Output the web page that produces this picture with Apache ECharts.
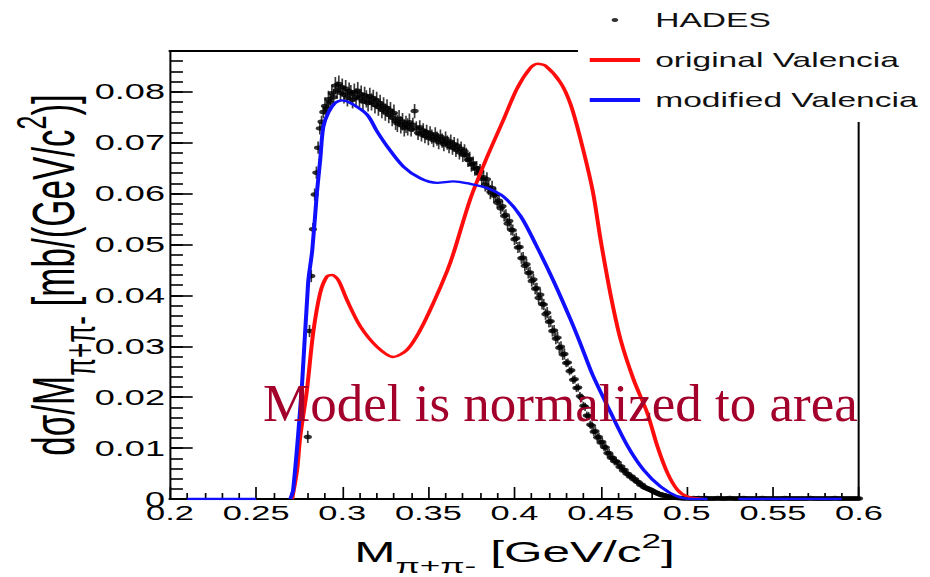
<!DOCTYPE html>
<html>
<head>
<meta charset="utf-8">
<script src="https://cdn.jsdelivr.net/npm/echarts@6/dist/echarts.min.js"></script>
<style>
  html, body { margin: 0; padding: 0; background: #fff; overflow: hidden; }
  #chart { width: 554px; height: 577px; transform-origin: 0 0; }
</style>
</head>
<body>
<div id="chart"></div>
<script>
// HADES pi+pi- invariant mass spectrum vs. Valencia model curves

// Horizontal stretch of the whole figure (fonts and markers are wide)
const STRETCH = 930 / 554;

// HADES data: bins of 1 MeV starting at 0.280 GeV/c^2
const HADES_START = 0.280;
const HADES_BIN = 0.001;
const hadesValues = [
  0.0122, 0.0330, 0.0438, 0.0530, 0.0598, 0.0641, 0.0690, 0.0728, 0.0741, 0.0760,
  0.0772, 0.0766, 0.0785, 0.0779, 0.0797, 0.0789, 0.0812, 0.0803, 0.0815, 0.0798,
  0.0809, 0.0794, 0.0806, 0.0788, 0.0801, 0.0796, 0.0784, 0.0799, 0.0790, 0.0802,
  0.0787, 0.0795, 0.0781, 0.0793, 0.0786, 0.0778, 0.0791, 0.0780, 0.0787, 0.0774,
  0.0783, 0.0770, 0.0777, 0.0765, 0.0772, 0.0760, 0.0768, 0.0755, 0.0763, 0.0749,
  0.0758, 0.0742, 0.0738, 0.0747, 0.0735, 0.0741, 0.0729, 0.0736, 0.0731, 0.0740,
  0.0726, 0.0735, 0.0762, 0.0728, 0.0719, 0.0730, 0.0716, 0.0724, 0.0713, 0.0721,
  0.0709, 0.0718, 0.0712, 0.0705, 0.0716, 0.0708, 0.0701, 0.0712, 0.0704, 0.0697,
  0.0708, 0.0700, 0.0693, 0.0702, 0.0690, 0.0697, 0.0686, 0.0694, 0.0681, 0.0688,
  0.0676, 0.0683, 0.0676, 0.0666, 0.0668, 0.0657, 0.0659, 0.0649, 0.0650, 0.0640,
  0.0644, 0.0629, 0.0632, 0.0618, 0.0628, 0.0611, 0.0603, 0.0611, 0.0596, 0.0598,
  0.0582, 0.0586, 0.0571, 0.0575, 0.0556, 0.0558, 0.0541, 0.0546, 0.0529, 0.0528,
  0.0510, 0.0512, 0.0494, 0.0495, 0.0473, 0.0474, 0.0458, 0.0461, 0.0444, 0.0445,
  0.0428, 0.0431, 0.0413, 0.0414, 0.0395, 0.0401, 0.0383, 0.0382, 0.0363, 0.0366,
  0.0348, 0.0349, 0.0330, 0.0331, 0.0315, 0.0317, 0.0297, 0.0299, 0.0284, 0.0285,
  0.0267, 0.0268, 0.0251, 0.0253, 0.0234, 0.0235, 0.0218, 0.0219, 0.0202, 0.0199,
  0.0183, 0.0181, 0.0164, 0.0163, 0.0146, 0.0144, 0.0132, 0.0133, 0.0121, 0.0122,
  0.0111, 0.0112, 0.0102, 0.0101, 0.0090, 0.0090, 0.0081, 0.0081, 0.0074, 0.0074,
  0.0071, 0.0063, 0.0064, 0.0056, 0.0057, 0.0050, 0.0049, 0.0044, 0.0044, 0.0039,
  0.0039, 0.0034, 0.0033, 0.0028, 0.0028, 0.0024, 0.0022, 0.0021, 0.0019, 0.0018,
  0.0016, 0.0014, 0.0013, 0.0011, 0.0010, 0.0008, 0.0008, 0.0007, 0.0006, 0.0005,
  0.0005, 0.0004, 0.0004, 0.0003, 0.0003, 0.0002, 0.0002, 0.0002, 0.0001, 0.0002,
  0.0001, 0.0002, 0.0001, 0.0001, 0.0002, 0.0001, 0.0001, 0.0002, 0.0001, 0.0001,
  0.0001, 0.0002, 0.0001, 0.0001, 0.0001, 0.0001, 0.0001, 0.0001, 0.0002, 0.0001,
  0.0001, 0.0001, 0.0001, 0.0001, 0.0001, 0.0002, 0.0001, 0.0001, 0.0001, 0.0001,
  0.0001, 0.0001, 0.0001, 0.0002, 0.0001, 0.0001, 0.0001, 0.0001, 0.0001, 0.0001,
  0.0001, 0.0001, 0.0001, 0.0001, 0.0002, 0.0001, 0.0001, 0.0001, 0.0001, 0.0001,
  0.0001, 0.0001, 0.0001, 0.0001, 0.0001, 0.0001, 0.0001, 0.0002, 0.0001, 0.0001,
  0.0001, 0.0001, 0.0001, 0.0001, 0.0001, 0.0001, 0.0001, 0.0001, 0.0001, 0.0001,
  0.0001, 0.0001, 0.0002, 0.0001, 0.0001, 0.0001, 0.0001, 0.0001, 0.0001, 0.0001,
  0.0001, 0.0001, 0.0001, 0.0001, 0.0001, 0.0001, 0.0002, 0.0001, 0.0001, 0.0001,
  0.0001, 0.0001, 0.0001, 0.0001, 0.0001, 0.0001, 0.0001, 0.0001, 0.0001, 0.0001,
  0.0001
];

// Statistical error (half-length of the bar), valid from the given mass onward
const hadesErrBands = [
  [0.280, 0.0012], [0.290, 0.0017], [0.340, 0.0014], [0.390, 0.0011],
  [0.430, 0.0008], [0.460, 0.0005], [0.490, 0.0002]
];

// Original Valencia model [mass, dsigma/dM]
const originalValencia = [
  [0.2709, 0], [0.2738, 0.0057], [0.2756, 0.0122], [0.2795, 0.0214], [0.2831, 0.0326],
  [0.2872, 0.0405], [0.2911, 0.0437], [0.2940, 0.0440], [0.2977, 0.0430], [0.3027, 0.0391],
  [0.3105, 0.0339], [0.3202, 0.0299], [0.3297, 0.0279], [0.3376, 0.0293], [0.3453, 0.0332],
  [0.3529, 0.0385], [0.3609, 0.0448], [0.3648, 0.0485], [0.3744, 0.0590], [0.3841, 0.0672],
  [0.3936, 0.0745], [0.4016, 0.0807], [0.4093, 0.0847], [0.4134, 0.0855], [0.4180, 0.0851],
  [0.4267, 0.0818], [0.4326, 0.0775], [0.4384, 0.0706], [0.4453, 0.0607], [0.4500, 0.0509],
  [0.4558, 0.0401], [0.4616, 0.0313], [0.4692, 0.0234], [0.4771, 0.0169], [0.4830, 0.0103],
  [0.4888, 0.0051], [0.4946, 0.0018], [0.5004, 0.0005], [0.5099, 0]
];

// Modified Valencia model [mass, dsigma/dM]; '-' breaks the curve
const modifiedValencia = [
  [0.210, 0], [0.250, 0], [0.260, '-'],
  [0.2698, 0], [0.2715, 0.0018], [0.2767, 0.0228], [0.2802, 0.0425], [0.2826, 0.0489],
  [0.2853, 0.0602], [0.2872, 0.0666], [0.2890, 0.0731], [0.2919, 0.0759], [0.2959, 0.0778],
  [0.2998, 0.0783], [0.3047, 0.0778], [0.3144, 0.0755], [0.3202, 0.0722], [0.3260, 0.0693],
  [0.3355, 0.0653], [0.3453, 0.0630], [0.3551, 0.0621], [0.3645, 0.0624], [0.3744, 0.0619],
  [0.3841, 0.0611], [0.3936, 0.0594], [0.4035, 0.0556], [0.4128, 0.0497], [0.4227, 0.0428],
  [0.4326, 0.0352], [0.4384, 0.0304], [0.4452, 0.0245], [0.4558, 0.0170], [0.4655, 0.0105],
  [0.4750, 0.0057], [0.4849, 0.0024], [0.4946, 0.0005], [0.5041, 0], [0.512, 0], [0.520, '-'],
  [0.530, 0], [0.590, 0]
];

const xTicks = { min: 0.2, max: 0.6, step: 0.05 };
const yTicks = { min: 0, max: 0.088, step: 0.01, minorStep: 0.002 };

const FONT = '"Liberation Sans", Arial, Helvetica, sans-serif';

function errFor(x) {
  let e = hadesErrBands[0][1];
  for (const [x0, v] of hadesErrBands) if (x >= x0 - 1e-9) e = v;
  return e;
}
const hadesData = hadesValues.map((v, i) => {
  const x = +(HADES_START + i * HADES_BIN).toFixed(3);
  return [x, v, errFor(x)];
});

const el = document.getElementById('chart');
el.style.transform = 'scaleX(' + STRETCH + ')';
const chart = echarts.init(el, null, { renderer: 'svg', width: 554, height: 577 });

const fmt = v => (v === 0 ? '0' : String(Math.round(v * 1000) / 1000));

const titleRichX = {
  m:   { fontSize: 29.5, fontFamily: FONT, color: '#000', verticalAlign: 'top', padding: [11, 0, 0, 0] },
  sub: { fontSize: 21, fontFamily: FONT, color: '#000', verticalAlign: 'top', padding: [29, 0, 0, 0] },
  sup: { fontSize: 21, fontFamily: FONT, color: '#000', verticalAlign: 'top', padding: [4, 0, 0, 0] }
};
const titleRichY = {
  m:   { fontSize: 35, fontFamily: FONT, color: '#000', verticalAlign: 'top', padding: [8, 0, 0, 0] },
  sub: { fontSize: 26, fontFamily: FONT, color: '#000', verticalAlign: 'top', padding: [28, 0, 0, 0] },
  sup: { fontSize: 25, fontFamily: FONT, color: '#000', verticalAlign: 'top', padding: [0, 0, 0, 0] }
};

const option = {
  animation: false,
  backgroundColor: '#fff',
  grid: { left: 101.27, right: 42.3, top: 51, bottom: 78, outerBoundsMode: 'none', containLabel: false },
  legend: {
    orient: 'vertical',
    left: 344.3,
    top: 0,
    padding: [9, 40, 11, 7],
    backgroundColor: '#fff',
    itemWidth: 30,
    itemHeight: 4,
    itemGap: 18,
    selectedMode: false,
    textStyle: { fontSize: 20, fontFamily: FONT, color: '#111', lineHeight: 22, padding: [0, 0, 0, 4] },
    data: [
      { name: 'HADES', icon: 'circle' },
      { name: 'original Valencia', icon: 'rect' },
      { name: 'modified Valencia', icon: 'rect' }
    ],
    z: 10
  },
  xAxis: [
    {
      type: 'value', position: 'bottom',
      min: xTicks.min, max: xTicks.max, interval: xTicks.step,
      name: '{m|M}{sub|π+π-}{m| [GeV/c}{sup|2}{m|]}',
      nameLocation: 'middle', nameGap: 27, nameMoveOverlap: false,
      nameTextStyle: { rich: titleRichX },
      axisLine: { show: true, onZero: false, lineStyle: { color: '#000', width: 2 } },
      axisTick: { show: true, inside: true, length: 12, lineStyle: { color: '#000', width: 1 } },
      minorTick: { show: true, splitNumber: 5, length: 6, lineStyle: { color: '#000', width: 1 } },
      axisLabel: { show: true, margin: 3, fontSize: 20.5, fontFamily: FONT, color: '#000',
                   showMinLabel: true, showMaxLabel: true, hideOverlap: false, formatter: fmt },
      splitLine: { show: false }, minorSplitLine: { show: false }
    },
    {
      type: 'value', position: 'top',
      min: xTicks.min, max: xTicks.max, interval: xTicks.step,
      axisLine: { show: true, onZero: false, lineStyle: { color: '#000', width: 2 } },
      axisTick: { show: false }, axisLabel: { show: false }, splitLine: { show: false }
    }
  ],
  yAxis: [
    {
      type: 'value', position: 'left',
      min: yTicks.min, max: yTicks.max, interval: yTicks.step,
      name: '{m|dσ/M}{sub|π+π-}{m| [mb/(GeV/c}{sup|2}{m|)]}',
      nameLocation: 'middle', nameRotate: 90, nameGap: 41, nameMoveOverlap: false,
      nameTextStyle: { rich: titleRichY },
      axisLine: { show: true, onZero: false, lineStyle: { color: '#000', width: 1.2 } },
      axisTick: { show: true, inside: true, length: 13.5, lineStyle: { color: '#000', width: 1.6 } },
      axisLabel: { show: true, margin: 3, fontSize: 21.5, fontFamily: FONT, color: '#000',
                   showMinLabel: true, showMaxLabel: false, hideOverlap: false, formatter: fmt },
      splitLine: { show: false }
    },
    {
      type: 'value', position: 'left',
      min: yTicks.min, max: yTicks.max, interval: yTicks.minorStep,
      axisLine: { show: false },
      axisTick: { show: true, inside: true, length: 7.7, lineStyle: { color: '#000', width: 1.6 } },
      axisLabel: { show: false }, splitLine: { show: false }
    },
    {
      type: 'value', position: 'right',
      min: yTicks.min, max: yTicks.max, interval: yTicks.step,
      axisLine: { show: true, onZero: false, lineStyle: { color: '#000', width: 1.2 } },
      axisTick: { show: false }, axisLabel: { show: false }, splitLine: { show: false }
    }
  ],
  series: [
    {
      name: 'HADES errors',
      type: 'custom',
      xAxisIndex: 0, yAxisIndex: 0,
      clip: true,
      data: hadesData,
      encode: { x: 0, y: 1 },
      renderItem: (params, api) => {
        const x = api.value(0), y = api.value(1), e = api.value(2);
        const p1 = api.coord([x, y + e]);
        const p2 = api.coord([x, Math.max(0, y - e)]);
        return {
          type: 'line',
          shape: { x1: p1[0], y1: p1[1], x2: p2[0], y2: p2[1] },
          style: { stroke: '#3a3a3a', lineWidth: 1 }
        };
      },
      silent: true,
      z: 2
    },
    {
      name: 'HADES',
      type: 'scatter',
      xAxisIndex: 0, yAxisIndex: 0,
      data: hadesData,
      encode: { x: 0, y: 1 },
      symbol: 'circle',
      symbolSize: [5, 4.6],
      itemStyle: { color: '#000' },
      color: '#000',
      silent: true,
      z: 3
    },
    {
      name: 'original Valencia',
      type: 'line',
      xAxisIndex: 0, yAxisIndex: 0,
      data: originalValencia,
      showSymbol: false,
      smooth: 0.3,
      color: '#ff0d0d',
      itemStyle: { color: '#ff0d0d' },
      lineStyle: { color: '#ff0d0d', width: 2.4 },
      silent: true,
      z: 4
    },
    {
      name: 'modified Valencia',
      type: 'line',
      xAxisIndex: 0, yAxisIndex: 0,
      data: modifiedValencia,
      showSymbol: false,
      connectNulls: false,
      smooth: 0.3,
      color: '#1010ff',
      itemStyle: { color: '#1010ff' },
      lineStyle: { color: '#1010ff', width: 2.4 },
      silent: true,
      z: 5
    }
  ],
  graphic: [
    {
      type: 'text',
      x: 263 / STRETCH,
      y: 403,
      scaleX: 1 / STRETCH,
      z: 100,
      silent: true,
      style: {
        text: 'Model is normalized to area',
        font: '53px "Liberation Serif", "Times New Roman", serif',
        fill: '#a3002c',
        align: 'left', verticalAlign: 'middle',
        textAlign: 'left', textVerticalAlign: 'middle'
      }
    }
  ]
};

chart.setOption(option);
</script>
</body>
</html>
